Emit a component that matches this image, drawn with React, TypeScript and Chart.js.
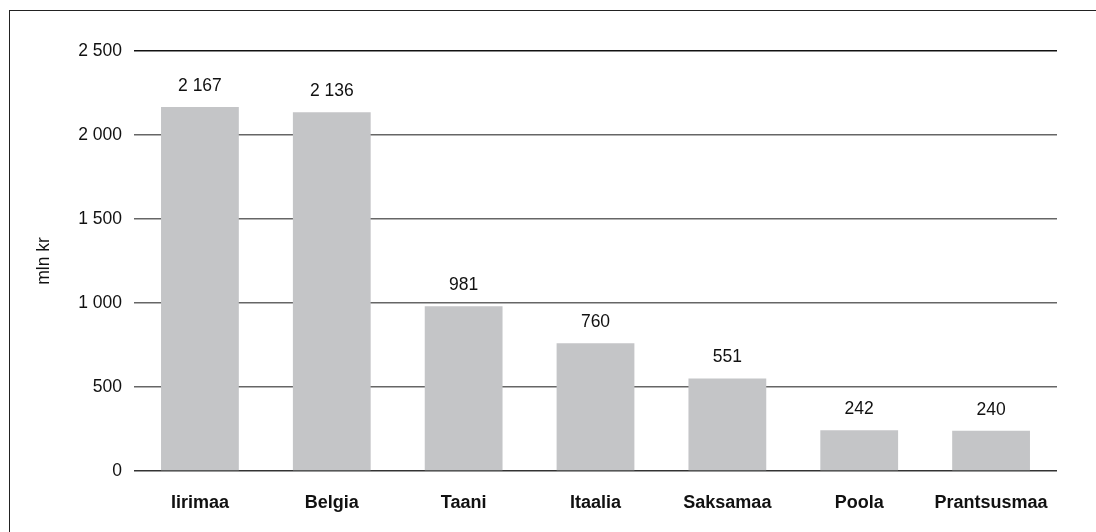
import React, { useEffect, useRef } from "react";
import { Chart, registerables } from "chart.js";

Chart.register(...registerables);

const categories = ["Iirimaa", "Belgia", "Taani", "Itaalia", "Saksamaa", "Poola", "Prantsusmaa"];
const values = [2167, 2136, 981, 760, 551, 242, 240];
const yTicks = [0, 500, 1000, 1500, 2000, 2500];
const yTitle = "mln kr";

const FONT = "'Liberation Sans', Arial, Helvetica, sans-serif";

function fmt(v: number): string {
  return String(Math.round(v)).replace(/\B(?=(\d{3})+(?!\d))/g, " ");
}

const labelPlugin = {
  id: "barLabels",
  afterDatasetsDraw(chart: any) {
    const ctx = chart.ctx;
    const meta = chart.getDatasetMeta(0);
    ctx.save();
    ctx.font = `17.5px ${FONT}`;
    ctx.fillStyle = "#111";
    ctx.textAlign = "center";
    ctx.textBaseline = "alphabetic";
    meta.data.forEach((bar: any, i: number) => {
      ctx.fillText(fmt(values[i]), bar.x, bar.y - 16);
    });
    ctx.restore();
  },
};

export default function App() {
  const ref = useRef<HTMLCanvasElement | null>(null);
  useEffect(() => {
    if (!ref.current) return;
    const chart = new Chart(ref.current, {
      type: "bar",
      data: {
        labels: categories,
        datasets: [
          {
            data: values,
            backgroundColor: "#c4c5c7",
            borderWidth: 0,
            barPercentage: 0.59,
            categoryPercentage: 1,
          },
        ],
      },
      options: {
        animation: false,
        responsive: false,
        layout: { padding: { left: 0, right: 39, top: 51, bottom: 0 } },
        plugins: { legend: { display: false }, tooltip: { enabled: false } },
        scales: {
          x: {
            grid: { display: false, drawTicks: false },
            border: { display: false },
            ticks: {
              padding: 21,
              color: "#111",
              font: { family: FONT, size: 18, weight: "bold" },
            },
            afterFit(scale: any) {
              scale.height = 61;
            },
          },
          y: {
            min: 0,
            max: 2500,
            afterBuildTicks(scale: any) {
              scale.ticks = yTicks.map((v) => ({ value: v }));
            },
            grid: {
              drawTicks: false,
              color: (c: any) => (c.tick && c.tick.value === 2500 ? "#111" : c.tick && c.tick.value === 0 ? "#333" : "#666"),
              lineWidth: (c: any) => (c.tick && c.tick.value === 2500 ? 1.6 : 1.4),
            },
            border: { display: false },
            ticks: {
              padding: 12,
              color: "#111",
              font: { family: FONT, size: 17.5 },
              callback: (v: any) => fmt(Number(v)),
            },
            title: {
              display: true,
              text: yTitle,
              color: "#111",
              font: { family: FONT, size: 17.5 },
              padding: { top: 34, bottom: 0 },
            },
            afterFit(scale: any) {
              scale.width = 134;
            },
          },
        },
      },
      plugins: [labelPlugin],
    });
    return () => chart.destroy();
  }, []);

  return (
    <div style={{ position: "fixed", left: 0, top: 0, width: 1096, height: 532, background: "#fff", overflow: "hidden" }}>
      <div
        style={{
          position: "absolute",
          left: 9,
          top: 10,
          width: 1200,
          height: 600,
          borderTop: "1px solid #222",
          borderLeft: "1px solid #222",
        }}
      />
      <canvas ref={ref} width={1096} height={532} style={{ position: "absolute", left: 0, top: 0, display: "block" }} />
    </div>
  );
}
